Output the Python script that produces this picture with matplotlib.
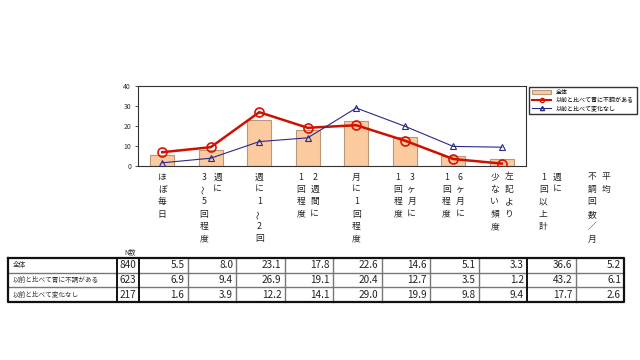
import matplotlib
matplotlib.use("Agg")
import matplotlib.pyplot as plt
from matplotlib.patches import Patch
from matplotlib.lines import Line2D

plt.rcParams['font.family'] = ['Noto Sans CJK JP', 'DejaVu Sans']

# ---- data ----
categories = [["ほぼ毎日"], ["週に", "3～5回程度"], ["週に1～2回"], ["2週間に", "1回程度"],
              ["月に1回程度"], ["3ヶ月に", "1回程度"], ["6ヶ月に", "1回程度"], ["左記より", "少ない頻度"]]
extra_cols = [["週に", "1回以上計"], ["平均", "不調回数／月"]]
series_names = ["全体", "以前と比べて胃に不調がある", "以前と比べて変化なし"]
n_values = [840, 623, 217]
total = [5.5, 8.0, 23.1, 17.8, 22.6, 14.6, 5.1, 3.3]
worse = [6.9, 9.4, 26.9, 19.1, 20.4, 12.7, 3.5, 1.2]
same = [1.6, 3.9, 12.2, 14.1, 29.0, 19.9, 9.8, 9.4]
weekly_total = [36.6, 43.2, 17.7]
avg_per_month = [5.2, 6.1, 2.6]
yticks = [0, 10, 20, 30, 40]

W, H = 640, 360
fig = plt.figure(figsize=(6.4, 3.6), dpi=100)

ax_l, ax_r, ax_t, ax_b = 138, 526, 86, 166
ax = fig.add_axes([ax_l / W, 1 - ax_b / H, (ax_r - ax_l) / W, (ax_b - ax_t) / H])
x = list(range(len(total)))
ax.bar(x, total, width=0.5, color='#FBCB9F', edgecolor='#B89878', linewidth=0.8, zorder=1)
ax.plot(x, worse, color='#CC1100', lw=1.8, marker='o', ms=6.5, mfc='none', mec='#DD1100', mew=1.2, zorder=3)
ax.plot(x, same, color='#2A2A8A', lw=0.8, marker='^', ms=4.5, mfc='none', mec='#2A2A8A', mew=0.8, zorder=3)
ax.set_xlim(-0.5, len(total) - 0.5)
ax.set_ylim(0, 40)
ax.set_yticks(yticks)
ax.set_xticks([])
ax.tick_params(axis='y', labelsize=5, length=2, width=0.6, pad=3, colors='#333333')
for s in ax.spines.values():
    s.set_linewidth(0.8)
    s.set_color('#333333')

handles = [Patch(facecolor='#FBCB9F', edgecolor='#B89878', linewidth=0.8),
           Line2D([], [], color='#CC1100', lw=1.5, marker='o', ms=3, mfc='none', mec='#DD1100'),
           Line2D([], [], color='#2A2A8A', lw=0.8, marker='^', ms=3, mfc='none', mec='#2A2A8A')]
fig.legend(handles, series_names, loc='upper left', bbox_to_anchor=(529 / W, 1 - 87 / H),
           fontsize=4.3, frameon=True, fancybox=False, edgecolor='#333333', framealpha=1,
           handlelength=3.2, handletextpad=0.8, borderpad=0.5, labelspacing=0.35, borderaxespad=0)

# ---- overlay for labels and table (pixel coordinates) ----
ov = fig.add_axes([0, 0, 1, 1])
ov.set_xlim(0, W)
ov.set_ylim(H, 0)
ov.axis('off')
colw = (ax_r - ax_l) / len(total)

all_labels = categories + extra_cols
y0, dy = 177, 12.4
for i, cols in enumerate(all_labels):
    cx = ax_l + colw * (i + 0.5)
    ncol = len(cols)
    for j, col in enumerate(cols):
        xx = cx + (7 if ncol == 2 and j == 0 else (-7 if ncol == 2 else 0))
        for k, ch in enumerate(col):
            rot = 90 if ch == '～' else 0
            ov.text(xx, y0 + k * dy, ch, ha='center', va='center', fontsize=6.3,
                    color='#222222', rotation=rot)

# table
tx0, tn0, tn1 = 8, 117, ax_l + 1
row_y = [258, 272.7, 287.3, 302]
col_edges = [tn1 + colw * i for i in range(len(all_labels) + 1)]
tx1 = col_edges[-1]
ov.text((tn0 + tn1) / 2 + 2, 252, "N数", ha='center', va='center', fontsize=4.8, color='#333333')
rows = [[total[i] for i in range(8)] + [weekly_total[0], avg_per_month[0]],
        [worse[i] for i in range(8)] + [weekly_total[1], avg_per_month[1]],
        [same[i] for i in range(8)] + [weekly_total[2], avg_per_month[2]]]
for r in range(3):
    yc = (row_y[r] + row_y[r + 1]) / 2
    ov.text(tx0 + 5, yc, series_names[r], ha='left', va='center', fontsize=4.8, color='#333333')
    ov.text(tn1 - 3, yc, str(n_values[r]), ha='right', va='center', fontsize=7.2, color='#222222')
    for c, v in enumerate(rows[r]):
        ov.text(col_edges[c + 1] - 3, yc, f"{v:.1f}", ha='right', va='center', fontsize=7.2, color='#222222')
# grid lines
for yy in row_y[1:-1]:
    ov.plot([tx0, tx1], [yy, yy], color='#777777', lw=1.0)
for xx in col_edges[1:-1]:
    if abs(xx - col_edges[8]) < 0.1:
        continue
    ov.plot([xx, xx], [row_y[0], row_y[-1]], color='#777777', lw=1.0)
for xx in [tn0, tn1, col_edges[8]]:
    ov.plot([xx, xx], [row_y[0], row_y[-1]], color='#111111', lw=1.4)
ov.plot([tx0, tx1, tx1, tx0, tx0], [row_y[0], row_y[0], row_y[-1], row_y[-1], row_y[0]],
        color='#111111', lw=1.6)

fig.savefig("out.png", dpi=100)
